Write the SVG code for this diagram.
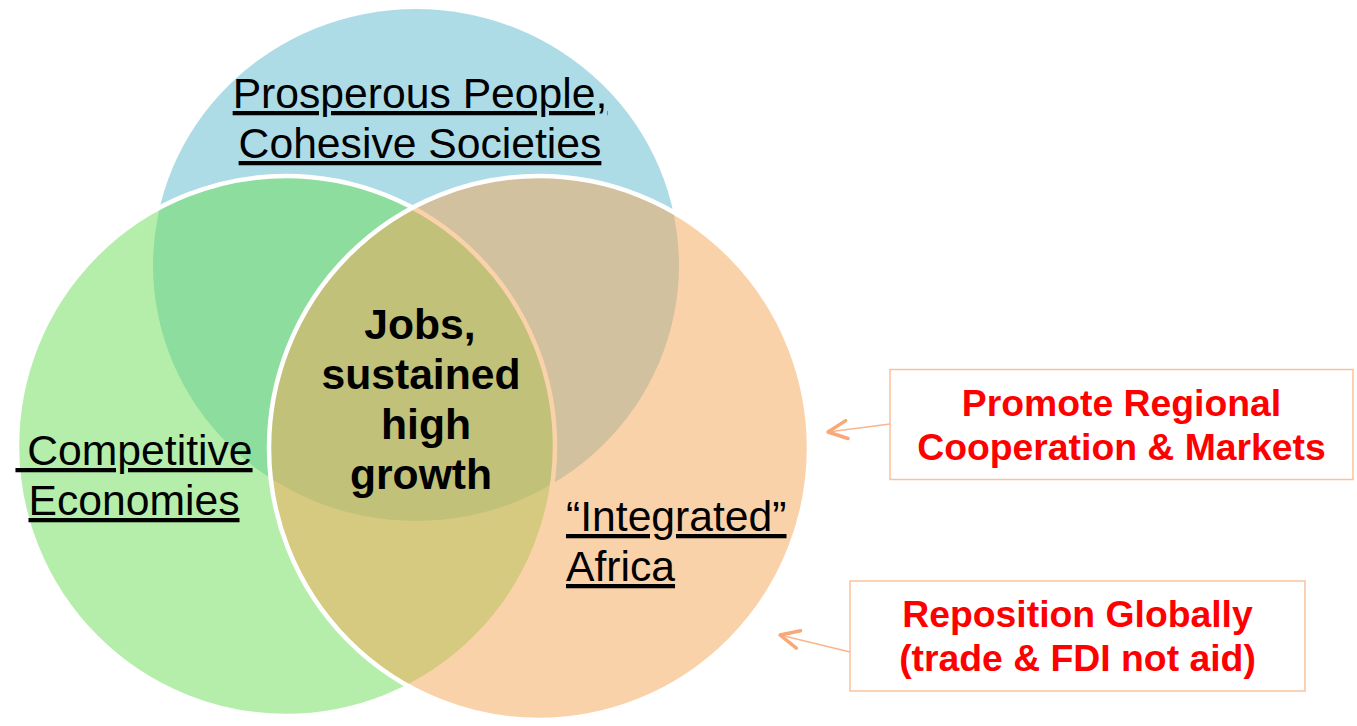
<svg xmlns="http://www.w3.org/2000/svg" width="1357" height="726" viewBox="0 0 1357 726">
<defs>
<style>
.lbl{font-family:"Liberation Sans",Arial,sans-serif;font-size:42.67px;fill:#000;}
.u{text-decoration:underline;}
.b{font-weight:bold;text-anchor:middle;}
.box rect{fill:#fff;stroke:#FAC19C;stroke-width:1.5;}
.box text{font-family:"Liberation Sans",Arial,sans-serif;font-size:37.33px;font-weight:bold;fill:#FF0000;text-anchor:middle;}
.conn{stroke:#F9B58E;stroke-width:1.75;fill:none;}
.circ{stroke:#fff;stroke-width:4.5;fill-opacity:0.5;}
</style>
<marker id="ah" markerUnits="userSpaceOnUse" orient="auto" markerWidth="30" markerHeight="30" refX="0" refY="0" overflow="visible">
<path d="M-19,-9 L0,0 L-19,9" fill="none" stroke="#F9A878" stroke-width="3.5" stroke-linecap="round" stroke-linejoin="round"/>
</marker>
</defs>
<rect x="0" y="0" width="1357" height="726" fill="#fff"/>
<g id="circle-prosperous">
<ellipse cx="416" cy="265" rx="263" ry="256" fill="#ADDCE6"/>
<text class="lbl u" x="420" y="108" text-anchor="middle">Prosperous People,</text>
<text class="lbl u" x="420" y="158" text-anchor="middle">Cohesive Societies</text>
</g>
<g id="circle-competitive">
<ellipse class="circ" cx="286" cy="446" rx="269" ry="270" fill="#6BDD55"/>
<text class="lbl u" x="134" y="465" text-anchor="middle" xml:space="preserve"> Competitive</text>
<text class="lbl u" x="134" y="515" text-anchor="middle">Economies</text>
</g>
<g id="circle-integrated">
<ellipse class="circ" cx="539" cy="448" rx="270" ry="272" fill="#F5A555"/>
<text class="lbl u" x="566" y="531">“Integrated”</text>
<text class="lbl u" x="566" y="581">Africa</text>
</g>
<g id="center-jobs">
<text class="lbl b" x="420" y="339">Jobs,</text>
<text class="lbl b" x="421" y="389">sustained</text>
<text class="lbl b" x="426" y="439">high</text>
<text class="lbl b" x="421" y="489">growth</text>
</g>
<g id="box-regional" class="box">
<rect x="890" y="369.5" width="463" height="110"/>
<text x="1121.5" y="416">Promote Regional</text>
<text x="1121.5" y="460">Cooperation &amp; Markets</text>
</g>
<g id="box-global" class="box">
<rect x="850" y="581" width="455" height="110"/>
<text x="1077.5" y="627">Reposition Globally</text>
<text x="1077.5" y="671">(trade &amp; FDI not aid)</text>
</g>
<g id="connectors">
<path class="conn" d="M890,424 L828,432" marker-end="url(#ah)"/>
<path class="conn" d="M850,652 L780,635" marker-end="url(#ah)"/>
</g>
</svg>
